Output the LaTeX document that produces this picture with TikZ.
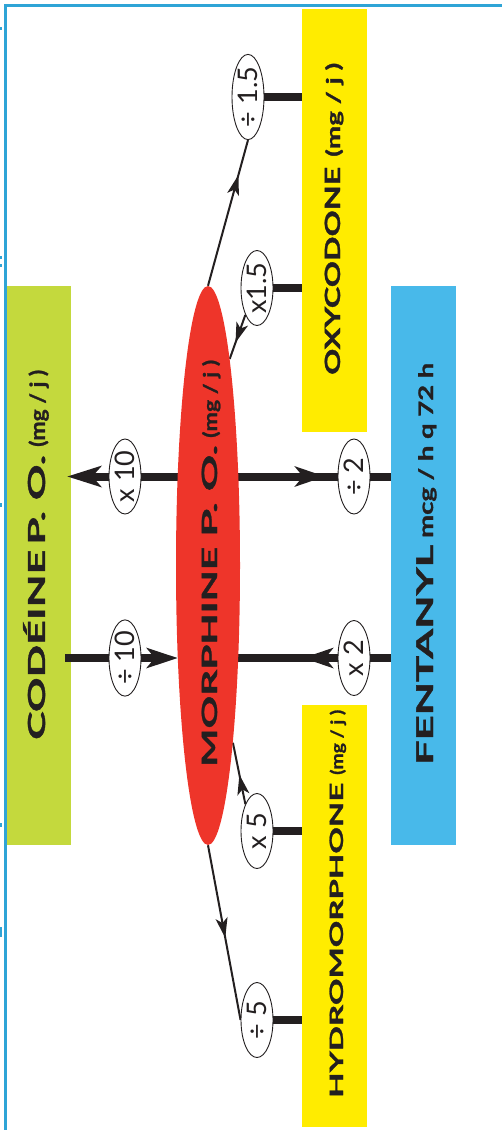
\documentclass[tikz,border=0pt]{standalone}
\usepackage{fontspec}
\setmainfont{Lato}
\newfontfamily\heavy{Lato}[BoldFeatures={FakeBold=1.2}]
\usepackage{graphicx}
\usetikzlibrary{shapes.geometric,arrows.meta,decorations.markings}
\definecolor{codgreen}{HTML}{C4D93D}
\definecolor{oxyyellow}{HTML}{FFEC00}
\definecolor{fentblue}{HTML}{48B9EA}
\definecolor{morphred}{HTML}{EE352A}
\definecolor{framec}{HTML}{2FA4D6}
\definecolor{ink}{HTML}{231F20}
\pgfdeclarelayer{boxes}
\pgfdeclarelayer{lines}
\pgfsetlayers{boxes,lines,main}
\newcommand\stretchtxt[3]{\resizebox{#1}{\height}{\fontsize{#2}{#2}\selectfont #3}}
\tikzset{
  drugbox/.style={rectangle, inner sep=0pt, draw=none, minimum width=65pt},
  morphell/.style={ellipse, fill=morphred, inner sep=0pt, minimum width=64pt, minimum height=559pt},
  factor/.style={ellipse, draw=ink, line width=0.9pt, fill=white, rotate=90, minimum width=75pt, minimum height=32pt, inner sep=0pt, font=\fontsize{27}{27}\selectfont, text=ink},
  lbl/.style={rotate=90, anchor=base west, inner sep=0pt, text=ink, font=\heavy\bfseries},
  bar/.style={draw=ink, line width=8pt},
  thinline/.style={draw=ink, line width=2pt},
  bigtip/.style={-{Stealth[length=34pt,width=21pt,inset=9pt]}},
  midbig/.style={postaction={decorate}, decoration={markings, mark=at position #1 with {\arrow{Stealth[length=30pt,width=20pt,inset=8pt]}}}},
  midthin/.style={postaction={decorate}, decoration={markings, mark=at position #1 with {\arrow{Stealth[length=20pt,width=12pt,inset=5pt]}}}},
  framestyle/.style={draw=framec, line width=2.2pt},
}
\begin{document}
\begin{tikzpicture}[x=1pt,y=-1pt]
\useasboundingbox (0,0) rectangle (502,1130);
\foreach \ya/\yb in {27/30, 256/259, 264/267, 503/507, 823/827, 927/937}
  \fill[framec] (0,\ya) rectangle (2,\yb);
% boxes
\begin{pgfonlayer}{boxes}
\node[drugbox, fill=codgreen, minimum height=559pt] (cod) at (38.5,565.5) {};
\node[drugbox, fill=fentblue, minimum height=559pt] (fent) at (423.5,565.5) {};
\node[drugbox, fill=oxyyellow, minimum height=423pt] (oxy) at (334.5,220.5) {};
\node[drugbox, fill=oxyyellow, minimum height=422pt] (hydro) at (334.5,916) {};
\end{pgfonlayer}
% morphine
\node[morphell] (morph) at (208,565.5) {};
% labels
\node[lbl] (codlbl) at (45,740) {\stretchtxt{190pt}{23.5}{CODÉINE}\hspace{5pt}\stretchtxt{90pt}{23.5}{P. O.}\hspace{8pt}\stretchtxt{77pt}{21}{(mg / j )}};
\node[lbl] (morphlbl) at (217,767) {\stretchtxt{220pt}{21}{MORPHINE}\hspace{10pt}\stretchtxt{92pt}{21}{P. O.}\hspace{7pt}\stretchtxt{78pt}{19}{(mg / j )}};
\node[lbl] (fentlbl) at (433,765) {\stretchtxt{220pt}{23}{FENTANYL}\hspace{7pt}\stretchtxt{175pt}{20}{mcg / h q 72 h}};
\node[lbl] (oxylbl) at (340,375) {\stretchtxt{208pt}{21}{OXYCODONE}\hspace{10pt}\stretchtxt{94pt}{19}{(mg / j )}};
\node[lbl] (hydrolbl) at (343,1098) {\stretchtxt{315pt}{18.5}{HYDROMORPHONE}\hspace{8pt}\stretchtxt{65pt}{17}{(mg / j )}};
% factor ovals
\node[factor] (o10a) at (125,476.5) {x 10};
\node[factor] (o2a) at (354,476.5) {÷ 2};
\node[factor] (o10b) at (125,658) {÷ 10};
\node[factor] (o2b) at (354,658) {x 2};
\node[factor] (o15d) at (248,97) {÷ 1.5};
\node[factor] (o15m) at (257,288) {x1.5};
\node[factor] (o5m) at (257,831) {x 5};
\node[factor] (o5d) at (257,1020) {÷ 5};
% connectors
\begin{pgfonlayer}{lines}
\draw[bar, bigtip, shorten >=-4pt] (morph |- o10a) -- (cod.east |- o10a);
\draw[bar, midbig=0.64] (morph |- o2a) -- (fent.west |- o2a);
\draw[bar, -{Stealth[length=31pt,width=20pt,inset=8pt]}, shorten <=-6pt, shorten >=30.2pt] (cod.east |- o10b) -- (morph |- o10b);
\draw[bar, midbig=0.48] (fent.west |- o2b) -- (morph |- o2b);
\draw[bar] (o15d) -- (o15d -| oxy.west);
\draw[bar] (o15m) -- (o15m -| oxy.west);
\draw[bar] (o5m) -- (o5m -| hydro.west);
\draw[bar] (o5d) -- (o5d -| hydro.west);
\draw[thinline, midthin=0.76] (morph.north) -- (o15d.west);
\draw[thinline, midthin=0.63] (o15m.north west) -- (morph.84);
\draw[thinline, midthin=0.48] (o5m.north east) -- (morph.278);
\draw[thinline, midthin=0.53] (morph.south) -- (o5d.north);
\end{pgfonlayer}
% frame (on top)
\draw[framestyle] (5.5,1130) -- (5.5,5.5) -- (502,5.5);
\end{tikzpicture}
\end{document}
